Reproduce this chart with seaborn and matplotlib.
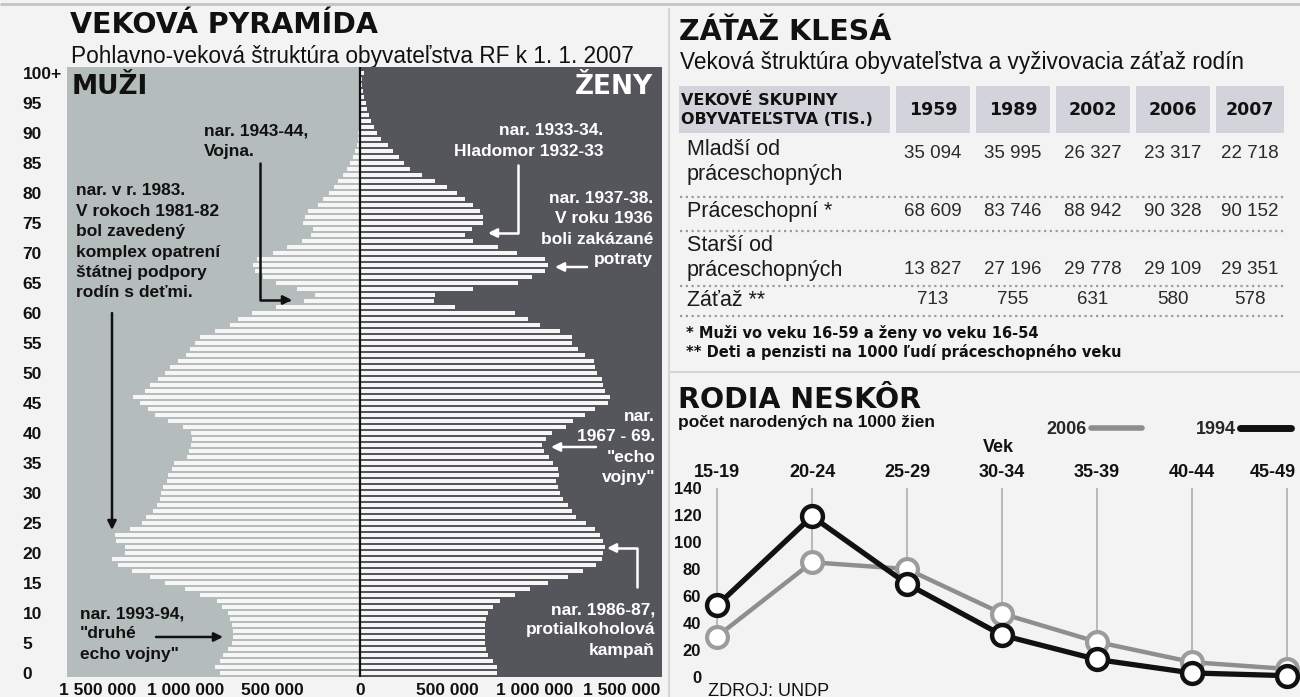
import numpy as np
import matplotlib
matplotlib.use("Agg")
import matplotlib.pyplot as plt
from matplotlib import font_manager
from matplotlib.lines import Line2D
from matplotlib.patches import Rectangle
from matplotlib.transforms import ScaledTranslation
import seaborn as sns

# ---------------- data ----------------
ages = np.arange(0, 101)
# population by single year of age, thousands
men = np.array([
    802, 831, 802, 785, 756, 733, 728, 728, 733, 745,
    756, 791, 819, 917, 1003, 1117, 1203, 1306, 1387, 1421,
    1347, 1347, 1398, 1404, 1318, 1249, 1226, 1186, 1163, 1146,
    1140, 1129, 1106, 1100, 1077, 1066, 991, 980, 968, 963,
    968, 1014, 1100, 1175, 1215, 1261, 1300, 1232, 1203, 1157,
    1117, 1089, 1043, 997, 974, 945, 917, 831, 745, 700,
    619, 480, 320, 260, 361, 480, 556, 600, 613, 590,
    500, 420, 330, 280, 270, 327, 315, 298, 240, 212,
    180, 149, 126, 97, 74, 57, 40, 29, 17, 11,
    9, 8, 6, 5, 4, 3, 3, 2, 2, 1, 3])
women = np.array([
    785, 785, 762, 733, 722, 716, 716, 716, 716, 722,
    733, 762, 802, 888, 974, 1077, 1192, 1278, 1352, 1387,
    1392, 1404, 1392, 1375, 1347, 1295, 1238, 1215, 1192, 1163,
    1146, 1135, 1123, 1140, 1135, 1106, 1083, 1054, 1043, 1066,
    1100, 1180, 1220, 1289, 1347, 1421, 1433, 1404, 1392, 1387,
    1358, 1347, 1341, 1289, 1249, 1215, 1215, 1146, 1031, 962,
    888, 544, 425, 430, 650, 905, 986, 1060, 1077, 1060,
    900, 790, 650, 602, 640, 705, 705, 688, 647, 602,
    555, 498, 430, 355, 287, 252, 223, 189, 160, 120,
    97, 80, 63, 52, 40, 32, 25, 19, 14, 10, 22])

age_ticks = list(range(0, 101, 5))
age_tick_labels = [str(a) for a in age_ticks[:-1]] + ["100+"]
pop_ticks = [-1500, -1000, -500, 0, 500, 1000, 1500]

table_years = ["1959", "1989", "2002", "2006", "2007"]
row_labels = ["Mladší od\npráceschopných", "Práceschopní *",
              "Starší od\npráceschopných", "Záťaž **"]
younger = [35094, 35995, 26327, 23317, 22718]
working = [68609, 83746, 88942, 90328, 90152]
older = [13827, 27196, 29778, 29109, 29351]
burden = [713, 755, 631, 580, 578]

age_groups = ["15-19", "20-24", "25-29", "30-34", "35-39", "40-44", "45-49"]
births_2006 = [30, 85, 80, 47, 26, 11, 6]
births_1994 = [53, 119, 69, 31, 13, 3, 1]

# ---------------- style ----------------
sns.set_style("white")
plt.rcParams["font.family"] = ["Liberation Sans", "DejaVu Sans"]
names = {f.name for f in font_manager.fontManager.ttflist}
NARROW = "Liberation Sans Narrow" if "Liberation Sans Narrow" in names else "Liberation Sans"
NUM_SIZE = 16.5 if NARROW == "Liberation Sans Narrow" else 13.5
HEAVY = "DejaVu Sans"

BG = "#f3f3f3"
LIGHT = "#b5bcbc"
DARK = "#55555c"
BAR = "#f6f6f6"
HEAD = "#d3d3db"
INK = "#111111"
GRAY_LINE = "#8e8e8e"

W, H = 1300, 697
fig = plt.figure(figsize=(13, 6.97), dpi=100, facecolor=BG)


def frame(l, t, r, b):
    return [l / W, 1 - b / H, (r - l) / W, (b - t) / H]


# overlay in pixel coordinates for titles, table and separators
ov = fig.add_axes([0, 0, 1, 1], zorder=0)
ov.set_xlim(0, W)
ov.set_ylim(H, 0)
ov.axis("off")
ov.hlines(4, 0, W, color="#c4c4c4", lw=2)
ov.vlines(669, 8, H, color="#d6d6d6", lw=1.5)
ov.hlines(372, 669, W, color="#d6d6d6", lw=1.5)

# ---------------- pyramid ----------------
PX = 5.729  # thousands per pixel
XL, XR = -(360 - 67) * PX, (662 - 360) * PX
ax = fig.add_axes(frame(67, 67, 662, 677), zorder=1)
ax.set_facecolor(DARK)
ax.axvspan(XL, 0, color=LIGHT, lw=0, zorder=0)
sns.barplot(x=-men, y=ages, orient="h", native_scale=True, color=BAR,
            saturation=1, width=0.78, errorbar=None, linewidth=0, ax=ax, zorder=2)
sns.barplot(x=women, y=ages, orient="h", native_scale=True, color=BAR,
            saturation=1, width=0.78, errorbar=None, linewidth=0, ax=ax, zorder=2)
ax.axvline(0, color=INK, lw=1.6, zorder=3)
ax.set_xlim(XL, XR)
ax.set_ylim(-0.67, 101)
ax.set_xlabel("")
ax.set_ylabel("")
for s in ax.spines.values():
    s.set_visible(False)

ax.set_yticks(age_ticks, age_tick_labels)
ax.set_xticks(pop_ticks, [f"{abs(v) * 1000:,}".replace(",", " ") for v in pop_ticks])
ax.tick_params(axis="y", length=0, pad=32, labelsize=12.5, labelcolor=INK)
ax.tick_params(axis="x", length=0, pad=4, labelsize=12.5, labelcolor=INK)
for lbl in ax.get_yticklabels():
    lbl.set_ha("left")
    lbl.set_fontweight("bold")
for lbl in ax.get_xticklabels():
    lbl.set_fontweight("bold")


def pyr(px, py):
    return (px - 360) * PX, (673 - py) / 6


NOTE = dict(fontsize=12.5, fontweight="bold", linespacing=1.45, va="center", zorder=5)
ax.text(*pyr(204, 141), "nar. 1943-44,\nVojna.", color=INK, ha="left", **NOTE)
ax.text(*pyr(76, 242), "nar. v r. 1983.\nV rokoch 1981-82\nbol zavedený\n"
        "komplex opatrení\nštátnej podpory\nrodín s deťmi.", color=INK, ha="left", **NOTE)
ax.text(*pyr(80, 634), 'nar. 1993-94,\n"druhé\necho vojny"', color=INK, ha="left", **NOTE)
ax.text(*pyr(603, 141), "nar. 1933-34.\nHladomor 1932-33", color="white", ha="right", **NOTE)
ax.text(*pyr(653, 229), "nar. 1937-38.\nV roku 1936\nboli zakázané\npotraty",
        color="white", ha="right", **NOTE)
ax.text(*pyr(655, 447), 'nar.\n1967 - 69.\n"echo\nvojny"', color="white", ha="right", **NOTE)
ax.text(*pyr(655, 630), "nar. 1986-87,\nprotialkoholová\nkampaň", color="white", ha="right", **NOTE)
ax.text(*pyr(72, 87), "MUŽI", color=INK, ha="left", va="center",
        family=HEAVY, fontweight="bold", fontsize=19, zorder=5)
ax.text(*pyr(653, 87), "ŽENY", color="white", ha="right", va="center",
        family=HEAVY, fontweight="bold", fontsize=19, zorder=5)

ELBOW = "angle,angleA=90,angleB=0,rad=0"


def arrow(p0, p1, color, conn="arc3"):
    ax.annotate("", xy=pyr(*p1), xytext=pyr(*p0), zorder=6,
                arrowprops=dict(arrowstyle="-|>", color=color, lw=1.8, mutation_scale=13,
                                shrinkA=0, shrinkB=0, connectionstyle=conn))


arrow((260, 163), (292, 300), INK, ELBOW)
arrow((112, 313), (112, 530), INK)
arrow((156, 637), (223, 637), INK)
arrow((518, 165), (488, 233), "white", ELBOW)
arrow((587, 267), (555, 267), "white")
arrow((596, 447), (551, 447), "white")
arrow((637, 587), (607, 548), "white", ELBOW)

ov.text(70, 25, "VEKOVÁ PYRAMÍDA", family=HEAVY, fontweight="bold", fontsize=20.5,
        va="center", color=INK)
ov.text(71, 56, "Pohlavno-veková štruktúra obyvateľstva RF k 1. 1. 2007",
        fontsize=16.3, va="center", color=INK)

# ---------------- table ----------------
ov.text(679, 32, "ZÁŤAŽ KLESÁ", family=HEAVY, fontweight="bold", fontsize=20.5,
        va="center", color=INK)
ov.text(680, 62, "Veková štruktúra obyvateľstva a vyživovacia záťaž rodín",
        fontsize=16.3, va="center", color=INK)

col_x = [933, 1013, 1093, 1173, 1250]
col_w = [74, 74, 74, 74, 68]
ov.add_patch(Rectangle((679, 86), 211, 47, color=HEAD, lw=0))
for cx, cw, yr in zip(col_x, col_w, table_years):
    ov.add_patch(Rectangle((cx - cw / 2, 86), cw, 47, color=HEAD, lw=0))
    ov.text(cx, 110, yr, ha="center", va="center", family=HEAVY,
            fontweight="bold", fontsize=12.5, color=INK)
ov.text(681, 110, "VEKOVÉ SKUPINY\nOBYVATEĽSTVA (TIS.)", family=HEAVY, fontweight="bold",
        fontsize=11.5, va="center", linespacing=1.3, color=INK)

label_y = [162, 212, 258, 300]
value_y = [154, 212, 270, 300]
for lab, ly, vy, vals in zip(row_labels, label_y, value_y, [younger, working, older, burden]):
    ov.text(687, ly, lab, fontsize=15.5, va="center", linespacing=1.25, color="#1a1a1a")
    for cx, v in zip(col_x, vals):
        ov.text(cx, vy, f"{v:,}".replace(",", " "), ha="center", va="center",
                family=NARROW, fontsize=NUM_SIZE, color="#2a2a2a")
ov.hlines([197, 231, 286, 316], 680, 1284, color="#9a9a9a", lw=1.6, linestyles=(0, (1, 1.6)))
ov.text(686, 333, "* Muži vo veku 16-59 a ženy vo veku 16-54", family=HEAVY,
        fontweight="bold", fontsize=10.5, va="center", color=INK)
ov.text(686, 352, "** Deti a penzisti na 1000 ľudí práceschopného veku", family=HEAVY,
        fontweight="bold", fontsize=10.5, va="center", color=INK)

# ---------------- births line chart ----------------
ov.text(678, 400, "RODIA NESKÔR", family=HEAVY, fontweight="bold", fontsize=20.5,
        va="center", color=INK)
ov.text(678, 423, "počet narodených na 1000 žien", fontweight="bold", fontsize=12.5,
        va="center", color=INK)
ov.text(998, 447, "Vek", fontweight="bold", fontsize=13, ha="center", va="center", color=INK)
ov.text(708, 691, "ZDROJ: UNDP", fontsize=13, va="center", color=INK)

lx = np.arange(len(age_groups))
axl = fig.add_axes(frame(704, 484, 1300, 697), zorder=2)
axl.set_facecolor("none")
axl.vlines(lx, np.minimum(births_1994, births_2006), 140, color="#b3b3b3", lw=1.3, zorder=1)
sns.lineplot(x=lx, y=births_2006, color=GRAY_LINE, lw=3.2, marker="o", ms=15,
             mfc="white", mec="#9c9c9c", mew=3, ax=axl, clip_on=False, zorder=3)
sns.lineplot(x=lx, y=births_1994, color=INK, lw=3.8, marker="o", ms=15,
             mfc="white", mec=INK, mew=3.2, ax=axl, clip_on=False, zorder=4)
axl.set_xlim(-0.137, 6.137)
axl.set_ylim(-14.8, 143)
axl.set_xlabel("")
axl.set_ylabel("")
for s in axl.spines.values():
    s.set_visible(False)
axl.set_xticks(lx, age_groups)
axl.xaxis.tick_top()
axl.set_yticks(range(0, 141, 20))
axl.tick_params(axis="x", length=0, pad=2, labelsize=13, labelcolor=INK)
axl.tick_params(axis="y", length=0, pad=2, labelsize=12, labelcolor=INK)
for lbl in axl.get_xticklabels() + axl.get_yticklabels():
    lbl.set_fontweight("bold")
# last age-group label sits left of its line so it stays inside the picture
last = axl.get_xticklabels()[-1]
last.set_ha("right")
last.set_transform(last.get_transform() + ScaledTranslation(0.09, 0, fig.dpi_scale_trans))

handles = [Line2D([], [], color=GRAY_LINE, lw=4), Line2D([], [], color=INK, lw=5)]
axl.legend(handles, ["2006", "1994"], markerfirst=False, ncol=2, frameon=False,
           loc="center right", bbox_to_anchor=(1291 / W, 1 - 430 / H),
           bbox_transform=fig.transFigure, handlelength=2.8, handletextpad=0.25,
           columnspacing=3.0, borderpad=0, borderaxespad=0,
           prop=dict(weight="bold", size=13))

fig.savefig("out.png", dpi=100, facecolor=BG)
